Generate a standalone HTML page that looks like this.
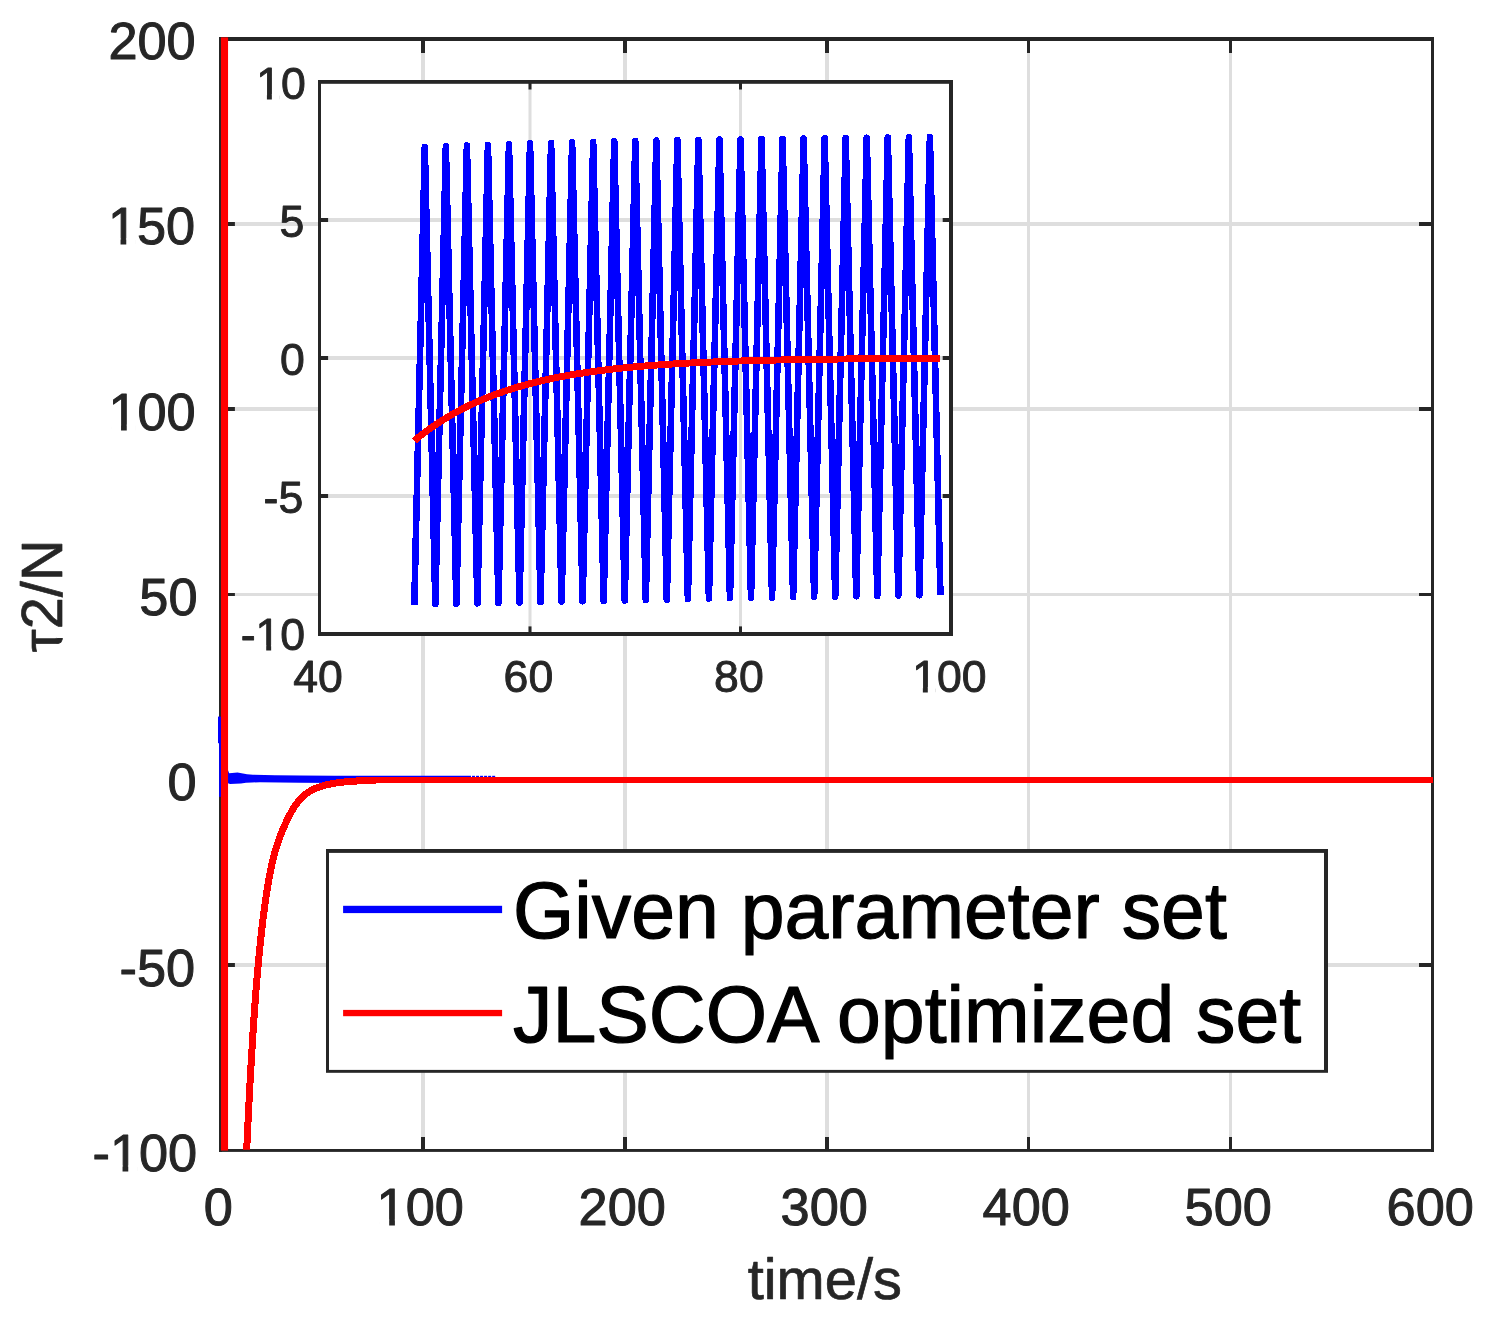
<!DOCTYPE html>
<html lang="en"><head><meta charset="utf-8"><title>tau2 torque comparison</title>
<style>html,body{margin:0;padding:0;background:#fff;overflow:hidden}svg{display:block}text{font-family:"Liberation Sans",Arial,Helvetica,sans-serif;stroke-linejoin:round}</style></head><body>
<svg width="1490" height="1326" viewBox="0 0 1490 1326">
<rect width="1490" height="1326" fill="#fff"/>
<g id="main-grid">
<rect x="421.00" y="38.93" width="4.00" height="1111.37" fill="#dedede"/>
<rect x="623.00" y="38.93" width="4.00" height="1111.37" fill="#dedede"/>
<rect x="825.00" y="38.93" width="4.00" height="1111.37" fill="#dedede"/>
<rect x="1027.00" y="38.93" width="3.00" height="1111.37" fill="#dedede"/>
<rect x="1229.00" y="38.93" width="3.00" height="1111.37" fill="#dedede"/>
<rect x="220.50" y="222.00" width="1211.95" height="4.00" fill="#dedede"/>
<rect x="220.50" y="407.00" width="1211.95" height="4.00" fill="#dedede"/>
<rect x="220.50" y="593.00" width="1211.95" height="3.00" fill="#dedede"/>
<rect x="220.50" y="778.00" width="1211.95" height="4.00" fill="#dedede"/>
<rect x="220.50" y="963.00" width="1211.95" height="4.00" fill="#dedede"/>
</g>
<g id="main-axes">
<rect x="219.00" y="37.00" width="1215.00" height="4.00" fill="#262626"/>
<rect x="219.00" y="1149.00" width="1215.00" height="2.90" fill="#262626"/>
<rect x="219.00" y="37.00" width="3.00" height="1114.90" fill="#262626"/>
<rect x="1431.00" y="37.00" width="3.00" height="1114.90" fill="#262626"/>
<rect x="421.00" y="38.93" width="4.00" height="14.07" fill="#262626"/>
<rect x="421.00" y="1137.00" width="4.00" height="13.30" fill="#262626"/>
<rect x="623.00" y="38.93" width="4.00" height="14.07" fill="#262626"/>
<rect x="623.00" y="1137.00" width="4.00" height="13.30" fill="#262626"/>
<rect x="825.00" y="38.93" width="4.00" height="14.07" fill="#262626"/>
<rect x="825.00" y="1137.00" width="4.00" height="13.30" fill="#262626"/>
<rect x="1027.00" y="38.93" width="3.00" height="14.07" fill="#262626"/>
<rect x="1027.00" y="1137.00" width="3.00" height="13.30" fill="#262626"/>
<rect x="1229.00" y="38.93" width="3.00" height="14.07" fill="#262626"/>
<rect x="1229.00" y="1137.00" width="3.00" height="13.30" fill="#262626"/>
<rect x="220.50" y="222.00" width="14.40" height="4.00" fill="#262626"/>
<rect x="1419.00" y="222.00" width="13.45" height="4.00" fill="#262626"/>
<rect x="220.50" y="407.00" width="14.40" height="4.00" fill="#262626"/>
<rect x="1419.00" y="407.00" width="13.45" height="4.00" fill="#262626"/>
<rect x="220.50" y="593.00" width="14.40" height="3.00" fill="#262626"/>
<rect x="1419.00" y="593.00" width="13.45" height="3.00" fill="#262626"/>
<rect x="220.50" y="778.00" width="14.40" height="4.00" fill="#262626"/>
<rect x="1419.00" y="778.00" width="13.45" height="4.00" fill="#262626"/>
<rect x="220.50" y="963.00" width="14.40" height="4.00" fill="#262626"/>
<rect x="1419.00" y="963.00" width="13.45" height="4.00" fill="#262626"/>
</g>
<g id="main-blue">
<polygon points="228.0,770.3 229.2,773.2 232.0,772.9 237.5,772.6 243.0,773.4 247.0,774.2 253.0,774.7 275.0,775.2 300.0,775.5 335.0,775.8 471.0,775.8 471.0,783.0 335.0,783.0 300.0,782.8 260.0,782.3 252.0,782.4 246.0,782.8 241.0,783.6 230.0,783.9 228.0,783.2" fill="#0000ff"/>
<rect x="472.00" y="775.80" width="3.00" height="5.20" fill="#0000ff"/>
<rect x="476.03" y="775.80" width="3.00" height="5.20" fill="#0000ff"/>
<rect x="480.06" y="775.80" width="3.00" height="5.20" fill="#0000ff"/>
<rect x="484.09" y="775.80" width="3.00" height="5.20" fill="#0000ff"/>
<rect x="488.12" y="775.80" width="3.00" height="5.20" fill="#0000ff"/>
<rect x="492.15" y="775.80" width="3.00" height="5.20" fill="#0000ff"/>
<rect x="218.00" y="716.60" width="3.20" height="26.60" fill="#0000ff"/>
<rect x="219.10" y="743.00" width="2.10" height="53.80" fill="#0000ff"/>
</g>
<g id="main-red">
<clipPath id="cm"><rect x="220" y="37.4" width="1213" height="1112.3"/></clipPath>
<g clip-path="url(#cm)" fill="none" stroke="#ff0000" stroke-linejoin="round" stroke-linecap="round" shape-rendering="crispEdges"><path d="M242.72,1246.62 L243.27,1232.10 L243.82,1218.01 L244.37,1204.32 L244.92,1191.01 L245.47,1178.08 L246.02,1165.49 L246.56,1153.24 L247.11,1141.30 L247.66,1129.67 L248.21,1118.35 L248.76,1107.34 L249.31,1096.64 L249.86,1086.25 L250.41,1076.17 L250.96,1066.40 L251.51,1056.94 L252.06,1047.79 L252.61,1038.93 L253.16,1030.37 L253.71,1022.10 L254.26,1014.12 L254.80,1006.43 L255.35,999.00 L255.90,991.85 L256.45,984.97 L257.00,978.34 L257.55,971.97 L258.10,965.84 L258.65,959.93 L259.20,954.21 L259.75,948.66 L260.30,943.28 L260.85,938.08 L261.40,933.05 L261.95,928.18 L262.50,923.47 L263.05,918.92 L263.59,914.52 L264.14,910.27 L264.69,906.17 L265.24,902.21 L265.79,898.39 L266.34,894.71 L266.89,891.16 L267.44,887.73 L267.99,884.43 L268.54,881.25 L269.09,878.19 L269.64,875.24 L270.19,872.40 L270.74,869.67 L271.29,867.04 L271.83,864.51 L272.38,862.08 L272.93,859.74 L273.48,857.50 L274.03,855.36 L274.58,853.30 L275.13,851.32 L275.68,849.42 L276.23,847.59 L276.78,845.83 L277.33,844.12 L277.88,842.47 L278.43,840.87 L278.98,839.32 L279.53,837.81 L280.07,836.35 L280.62,834.92 L281.17,833.52 L281.72,832.16 L282.27,830.83 L282.82,829.52 L283.37,828.24 L283.92,826.99 L284.47,825.75 L285.02,824.54 L285.57,823.34 L286.12,822.17 L286.67,821.00 L287.22,819.86 L287.77,818.73 L288.32,817.62 L288.86,816.54 L289.41,815.47 L289.96,814.43 L290.51,813.41 L291.06,812.41 L291.61,811.43 L292.16,810.48 L292.71,809.55 L293.26,808.65 L293.81,807.76 L294.36,806.91 L294.91,806.07 L295.46,805.26 L296.01,804.47 L296.56,803.71 L297.10,802.97 L297.65,802.25 L298.20,801.55 L298.75,800.88 L299.30,800.23 L299.85,799.60 L300.40,798.99 L300.95,798.40 L301.50,797.83 L302.05,797.28 L302.60,796.75 L303.15,796.24 L303.70,795.74 L304.25,795.27 L304.80,794.81 L305.34,794.37 L305.89,793.95 L306.44,793.54 L306.99,793.14 L307.54,792.77 L308.09,792.40 L308.64,792.05 L309.19,791.70 L309.74,791.37 L310.29,791.05 L310.84,790.74 L311.39,790.44 L311.94,790.14 L312.49,789.86 L313.04,789.58 L313.59,789.32 L314.13,789.06 L314.68,788.81 L315.23,788.57 L315.78,788.33 L316.33,788.10 L316.88,787.88 L317.43,787.66 L317.98,787.45 L318.53,787.25 L319.08,787.05 L319.63,786.86 L320.18,786.67 L320.73,786.49 L321.28,786.32 L321.83,786.14 L322.37,785.98 L322.92,785.82 L323.47,785.66 L324.02,785.51 L324.57,785.36 L325.12,785.21 L325.67,785.07 L326.22,784.93 L326.77,784.80 L327.32,784.67 L327.87,784.54 L328.42,784.42 L328.97,784.30 L329.52,784.18 L330.07,784.07 L330.62,783.96 L331.16,783.85 L331.71,783.75 L332.26,783.65 L332.81,783.55 L333.36,783.45 L333.91,783.35 L334.46,783.26 L335.01,783.17 L335.56,783.08 L336.11,783.00 L336.66,782.92 L337.21,782.83 L337.76,782.76 L338.31,782.68 L338.86,782.60 L339.40,782.53 L339.95,782.46 L340.50,782.39 L341.05,782.32 L341.60,782.26 L342.15,782.19 L342.70,782.13 L343.25,782.07 L343.80,782.01 L344.35,781.95 L344.90,781.90 L345.45,781.84 L346.00,781.79 L346.55,781.74 L347.10,781.69 L347.64,781.64 L348.19,781.59 L348.74,781.55 L349.29,781.50 L349.84,781.46 L350.39,781.41 L350.94,781.37 L351.49,781.33 L352.04,781.29 L352.59,781.26 L353.14,781.22 L353.69,781.18 L354.24,781.15 L354.79,781.11 L355.34,781.08 L355.89,781.05 L356.43,781.01 L356.98,780.98 L357.53,780.95 L358.08,780.92 L358.63,780.90 L359.18,780.87 L359.73,780.84 L360.28,780.81 L360.83,780.79 L361.38,780.76 L361.93,780.74 L362.48,780.72 L363.03,780.69 L363.58,780.67 L364.13,780.65 L364.67,780.63 L365.22,780.61 L365.77,780.59 L366.32,780.57 L366.87,780.55 L367.42,780.53 L367.97,780.51 L368.52,780.49 L369.07,780.48 L369.62,780.46 L370.17,780.44 L370.72,780.43 L371.27,780.41 L371.82,780.40 L372.37,780.38 L372.91,780.37 L373.46,780.35 L374.01,780.34" stroke-width="7.0"/><path d="M361.89,780.89 L362.66,780.86 L363.43,780.83 L364.20,780.80 L364.96,780.77 L365.73,780.74 L366.50,780.71 L367.26,780.68 L368.03,780.66 L368.80,780.63 L369.56,780.61 L370.33,780.59 L371.10,780.57 L371.87,780.54 L372.63,780.52 L373.40,780.50 L374.17,780.49 L374.93,780.47 L375.70,780.45 L376.47,780.43 L377.24,780.42 L378.00,780.40 L378.77,780.39 L379.54,780.37 L380.30,780.36 L381.07,780.34 L381.84,780.33 L382.60,780.32 L383.37,780.31 L384.14,780.29 L384.91,780.28 L385.67,780.27 L386.44,780.26 L387.21,780.25 L387.97,780.24 L388.74,780.23 L389.51,780.22 L390.28,780.22 L391.04,780.21 L391.81,780.20 L392.58,780.19 L393.34,780.18 L394.11,780.18 L394.88,780.17 L395.64,780.16 L396.41,780.16 L397.18,780.15 L397.95,780.14 L398.71,780.14 L399.48,780.13 L400.25,780.13 L401.01,780.12 L401.78,780.12 L402.55,780.11 L403.32,780.11 L404.08,780.10 L404.85,780.10 L405.62,780.10 L406.38,780.09 L407.15,780.09 L407.92,780.09 L408.68,780.08 L409.45,780.08 L410.22,780.08 L410.99,780.07 L411.75,780.07 L412.52,780.07 L413.29,780.06 L414.05,780.06 L414.82,780.06 L415.59,780.06 L416.36,780.05 L417.12,780.05 L417.89,780.05 L418.66,780.05 L419.42,780.05 L420.19,780.04 L420.96,780.04 L421.72,780.04 L422.49,780.04 L462.89,780.00 L503.29,779.99 L1433,779.99" stroke-width="5.95" stroke-linecap="butt"/></g>
<rect x="220.95" y="37.40" width="7.10" height="1113.20" fill="#ff0000"/>
</g>
<g id="main-labels">
<text x="218.2" y="1224.8" font-size="52.3" text-anchor="middle" fill="#262626" stroke="#262626" stroke-width="1.0">0</text>
<text x="420.2" y="1224.8" font-size="52.3" text-anchor="middle" fill="#262626" stroke="#262626" stroke-width="1.0">100</text>
<text x="622.2" y="1224.8" font-size="52.3" text-anchor="middle" fill="#262626" stroke="#262626" stroke-width="1.0">200</text>
<text x="824.2" y="1224.8" font-size="52.3" text-anchor="middle" fill="#262626" stroke="#262626" stroke-width="1.0">300</text>
<text x="1026.2" y="1224.8" font-size="52.3" text-anchor="middle" fill="#262626" stroke="#262626" stroke-width="1.0">400</text>
<text x="1228.2" y="1224.8" font-size="52.3" text-anchor="middle" fill="#262626" stroke="#262626" stroke-width="1.0">500</text>
<text x="1430.2" y="1224.8" font-size="52.3" text-anchor="middle" fill="#262626" stroke="#262626" stroke-width="1.0">600</text>
<text x="195.7" y="58.7" font-size="52.3" text-anchor="end" fill="#262626" stroke="#262626" stroke-width="1.0">200</text>
<text x="195.2" y="243.9" font-size="52.3" text-anchor="end" fill="#262626" stroke="#262626" stroke-width="1.0">150</text>
<text x="195.7" y="430.1" font-size="52.3" text-anchor="end" fill="#262626" stroke="#262626" stroke-width="1.0">100</text>
<text x="197.5" y="614.9" font-size="52.3" text-anchor="end" fill="#262626" stroke="#262626" stroke-width="1.0">50</text>
<text x="196.7" y="799.7" font-size="52.3" text-anchor="end" fill="#262626" stroke="#262626" stroke-width="1.0">0</text>
<text x="195.1" y="985.6" font-size="52.3" text-anchor="end" fill="#262626" stroke="#262626" stroke-width="1.0">-50</text>
<text x="197.2" y="1171.0" font-size="52.3" text-anchor="end" fill="#262626" stroke="#262626" stroke-width="1.0">-100</text>
<rect x="379.55" y="1219.29" width="9.62" height="7.31" fill="#fff"/>
<rect x="394.89" y="1219.29" width="9.21" height="7.31" fill="#fff"/>
<rect x="110.92" y="238.39" width="9.62" height="7.31" fill="#fff"/>
<rect x="126.26" y="238.39" width="9.21" height="7.31" fill="#fff"/>
<rect x="111.42" y="424.59" width="9.62" height="7.31" fill="#fff"/>
<rect x="126.76" y="424.59" width="9.21" height="7.31" fill="#fff"/>
<rect x="112.92" y="1165.49" width="9.62" height="7.31" fill="#fff"/>
<rect x="128.26" y="1165.49" width="9.21" height="7.31" fill="#fff"/>
<text x="824.8" y="1299.0" font-size="57.8" text-anchor="middle" fill="#262626" stroke="#262626" stroke-width="0.7">time/s</text>
<g transform="translate(61.9,595.8) rotate(-90)"><text font-size="57.8" text-anchor="middle" fill="#262626" stroke="#262626" stroke-width="0.7">τ2/N</text><rect x="-42.22" y="-5.20" width="5.98" height="6.6" fill="#fff"/></g>
</g>
<g id="inset">
<rect x="318.00" y="80.00" width="635.00" height="556.00" fill="#fff"/>
<rect x="528.50" y="81.83" width="3.00" height="552.17" fill="#dedede"/>
<rect x="739.00" y="81.83" width="3.00" height="552.17" fill="#dedede"/>
<rect x="319.57" y="218.00" width="631.38" height="4.00" fill="#dedede"/>
<rect x="319.57" y="356.00" width="631.38" height="4.00" fill="#dedede"/>
<rect x="319.57" y="494.00" width="631.38" height="4.00" fill="#dedede"/>
<rect x="318.00" y="80.00" width="635.00" height="3.80" fill="#262626"/>
<rect x="318.00" y="632.00" width="635.00" height="4.00" fill="#262626"/>
<rect x="318.00" y="80.00" width="3.00" height="556.00" fill="#262626"/>
<rect x="949.00" y="80.00" width="4.00" height="556.00" fill="#262626"/>
<rect x="528.50" y="626.40" width="3.00" height="7.60" fill="#262626"/>
<rect x="528.50" y="81.83" width="3.00" height="7.67" fill="#262626"/>
<rect x="739.00" y="626.40" width="3.00" height="7.60" fill="#262626"/>
<rect x="739.00" y="81.83" width="3.00" height="7.67" fill="#262626"/>
<rect x="319.57" y="218.00" width="8.53" height="4.00" fill="#262626"/>
<rect x="942.70" y="218.00" width="8.25" height="4.00" fill="#262626"/>
<rect x="319.57" y="356.00" width="8.53" height="4.00" fill="#262626"/>
<rect x="942.70" y="356.00" width="8.25" height="4.00" fill="#262626"/>
<rect x="319.57" y="494.00" width="8.53" height="4.00" fill="#262626"/>
<rect x="942.70" y="494.00" width="8.25" height="4.00" fill="#262626"/>
<path d="M414.28,605.00 L424.80,147.10 L435.32,604.20 L445.85,146.34 L456.37,603.78 L466.89,145.58 L477.41,603.36 L487.94,144.82 L498.46,602.94 L508.98,144.06 L519.51,602.52 L530.03,143.30 L540.55,602.10 L551.08,142.84 L561.60,601.72 L572.12,142.39 L582.64,601.33 L593.17,141.93 L603.69,600.95 L614.21,141.47 L624.74,600.57 L635.26,141.01 L645.78,600.18 L656.31,140.56 L666.83,599.80 L677.35,140.10 L687.88,599.15 L698.40,139.84 L708.92,598.50 L719.44,139.58 L729.97,598.18 L740.49,139.33 L751.01,597.86 L761.54,139.07 L772.06,597.54 L782.58,138.81 L793.11,597.22 L803.63,138.55 L814.15,596.90 L824.67,138.29 L835.20,596.58 L845.72,138.03 L856.24,596.26 L866.77,137.78 L877.29,595.94 L887.81,137.52 L898.34,595.62 L908.86,137.26 L919.38,595.30 L929.90,137.00 L940.43,595.00" fill="none" stroke="#0000ff" stroke-width="6.6" stroke-linejoin="round" stroke-linecap="butt" shape-rendering="crispEdges"/>
<path d="M414.28,440.74 L419.59,436.41 L424.91,432.30 L430.22,428.41 L435.54,424.72 L440.85,421.23 L446.16,417.92 L451.48,414.78 L456.79,411.80 L462.11,408.98 L467.42,406.31 L472.74,403.78 L478.05,401.38 L483.37,399.11 L488.68,396.95 L494.00,394.91 L499.31,392.98 L504.63,391.14 L509.94,389.40 L515.26,387.76 L520.57,386.20 L525.88,384.72 L531.20,383.31 L536.51,381.99 L541.83,380.73 L547.14,379.53 L552.46,378.40 L557.77,377.33 L563.09,376.31 L568.40,375.35 L573.72,374.44 L579.03,373.58 L584.35,372.76 L589.66,371.98 L594.97,371.24 L600.29,370.55 L605.60,369.89 L610.92,369.26 L616.23,368.67 L621.55,368.10 L626.86,367.57 L632.18,367.07 L637.49,366.59 L642.81,366.13 L648.12,365.70 L653.44,365.30 L658.75,364.91 L664.07,364.54 L669.38,364.20 L674.69,363.87 L680.01,363.56 L685.32,363.26 L690.64,362.98 L695.95,362.72 L701.27,362.47 L706.58,362.23 L711.90,362.00 L717.21,361.79 L722.53,361.59 L727.84,361.39 L733.16,361.21 L738.47,361.04 L743.79,360.88 L749.10,360.72 L754.41,360.57 L759.73,360.44 L765.04,360.30 L770.36,360.18 L775.67,360.06 L780.99,359.95 L786.30,359.84 L791.62,359.74 L796.93,359.65 L802.25,359.55 L807.56,359.47 L812.88,359.39 L818.19,359.31 L823.50,359.24 L828.82,359.17 L834.13,359.10 L839.45,359.04 L844.76,358.98 L850.08,358.93 L855.39,358.87 L860.71,358.82 L866.02,358.78 L871.34,358.73 L876.65,358.69 L881.97,358.65 L887.28,358.61 L892.60,358.57 L897.91,358.54 L903.22,358.51 L908.54,358.47 L913.85,358.45 L919.17,358.42 L924.48,358.39 L929.80,358.37 L935.11,358.34 L940.43,358.32" fill="none" stroke="#ff0000" stroke-width="6.9" stroke-linejoin="round" shape-rendering="crispEdges"/>
<text x="318.0" y="691.8" font-size="44.6" text-anchor="middle" fill="#262626" stroke="#262626" stroke-width="0.9">40</text>
<text x="528.4" y="691.8" font-size="44.6" text-anchor="middle" fill="#262626" stroke="#262626" stroke-width="0.9">60</text>
<text x="738.9" y="691.8" font-size="44.6" text-anchor="middle" fill="#262626" stroke="#262626" stroke-width="0.9">80</text>
<text x="949.4" y="691.8" font-size="44.6" text-anchor="middle" fill="#262626" stroke="#262626" stroke-width="0.9">100</text>
<text x="305.8" y="98.8" font-size="44.6" text-anchor="end" fill="#262626" stroke="#262626" stroke-width="0.9">10</text>
<text x="304.3" y="236.8" font-size="44.6" text-anchor="end" fill="#262626" stroke="#262626" stroke-width="0.9">5</text>
<text x="304.9" y="374.7" font-size="44.6" text-anchor="end" fill="#262626" stroke="#262626" stroke-width="0.9">0</text>
<text x="303.2" y="513.1" font-size="44.6" text-anchor="end" fill="#262626" stroke="#262626" stroke-width="0.9">-5</text>
<text x="305.1" y="650.2" font-size="44.6" text-anchor="end" fill="#262626" stroke="#262626" stroke-width="0.9">-10</text>
<rect x="914.64" y="686.92" width="8.22" height="6.63" fill="#fff"/>
<rect x="927.80" y="686.92" width="7.87" height="6.63" fill="#fff"/>
<rect x="258.69" y="93.95" width="8.22" height="6.63" fill="#fff"/>
<rect x="271.85" y="93.95" width="7.87" height="6.63" fill="#fff"/>
<rect x="257.99" y="645.32" width="8.22" height="6.63" fill="#fff"/>
<rect x="271.15" y="645.32" width="7.87" height="6.63" fill="#fff"/>
</g>
<g id="legend">
<rect x="326.00" y="849.00" width="1002.00" height="223.80" fill="#262626"/>
<rect x="329.00" y="852.90" width="995.00" height="217.00" fill="#fff"/>
<rect x="343.10" y="905.80" width="159.00" height="7.30" fill="#0000ff"/>
<rect x="343.10" y="1009.90" width="159.00" height="6.30" fill="#ff0000"/>
<text transform="translate(513.0,938.2) scale(1,1.02)" font-size="78.8" fill="#000" stroke="#000" stroke-width="1.2">Given parameter set</text>
<text transform="translate(513.0,1041.9) scale(1,1.02)" font-size="78.8" fill="#000" stroke="#000" stroke-width="1.2">JLSCOA optimized set</text>
</g>
</svg></body></html>
